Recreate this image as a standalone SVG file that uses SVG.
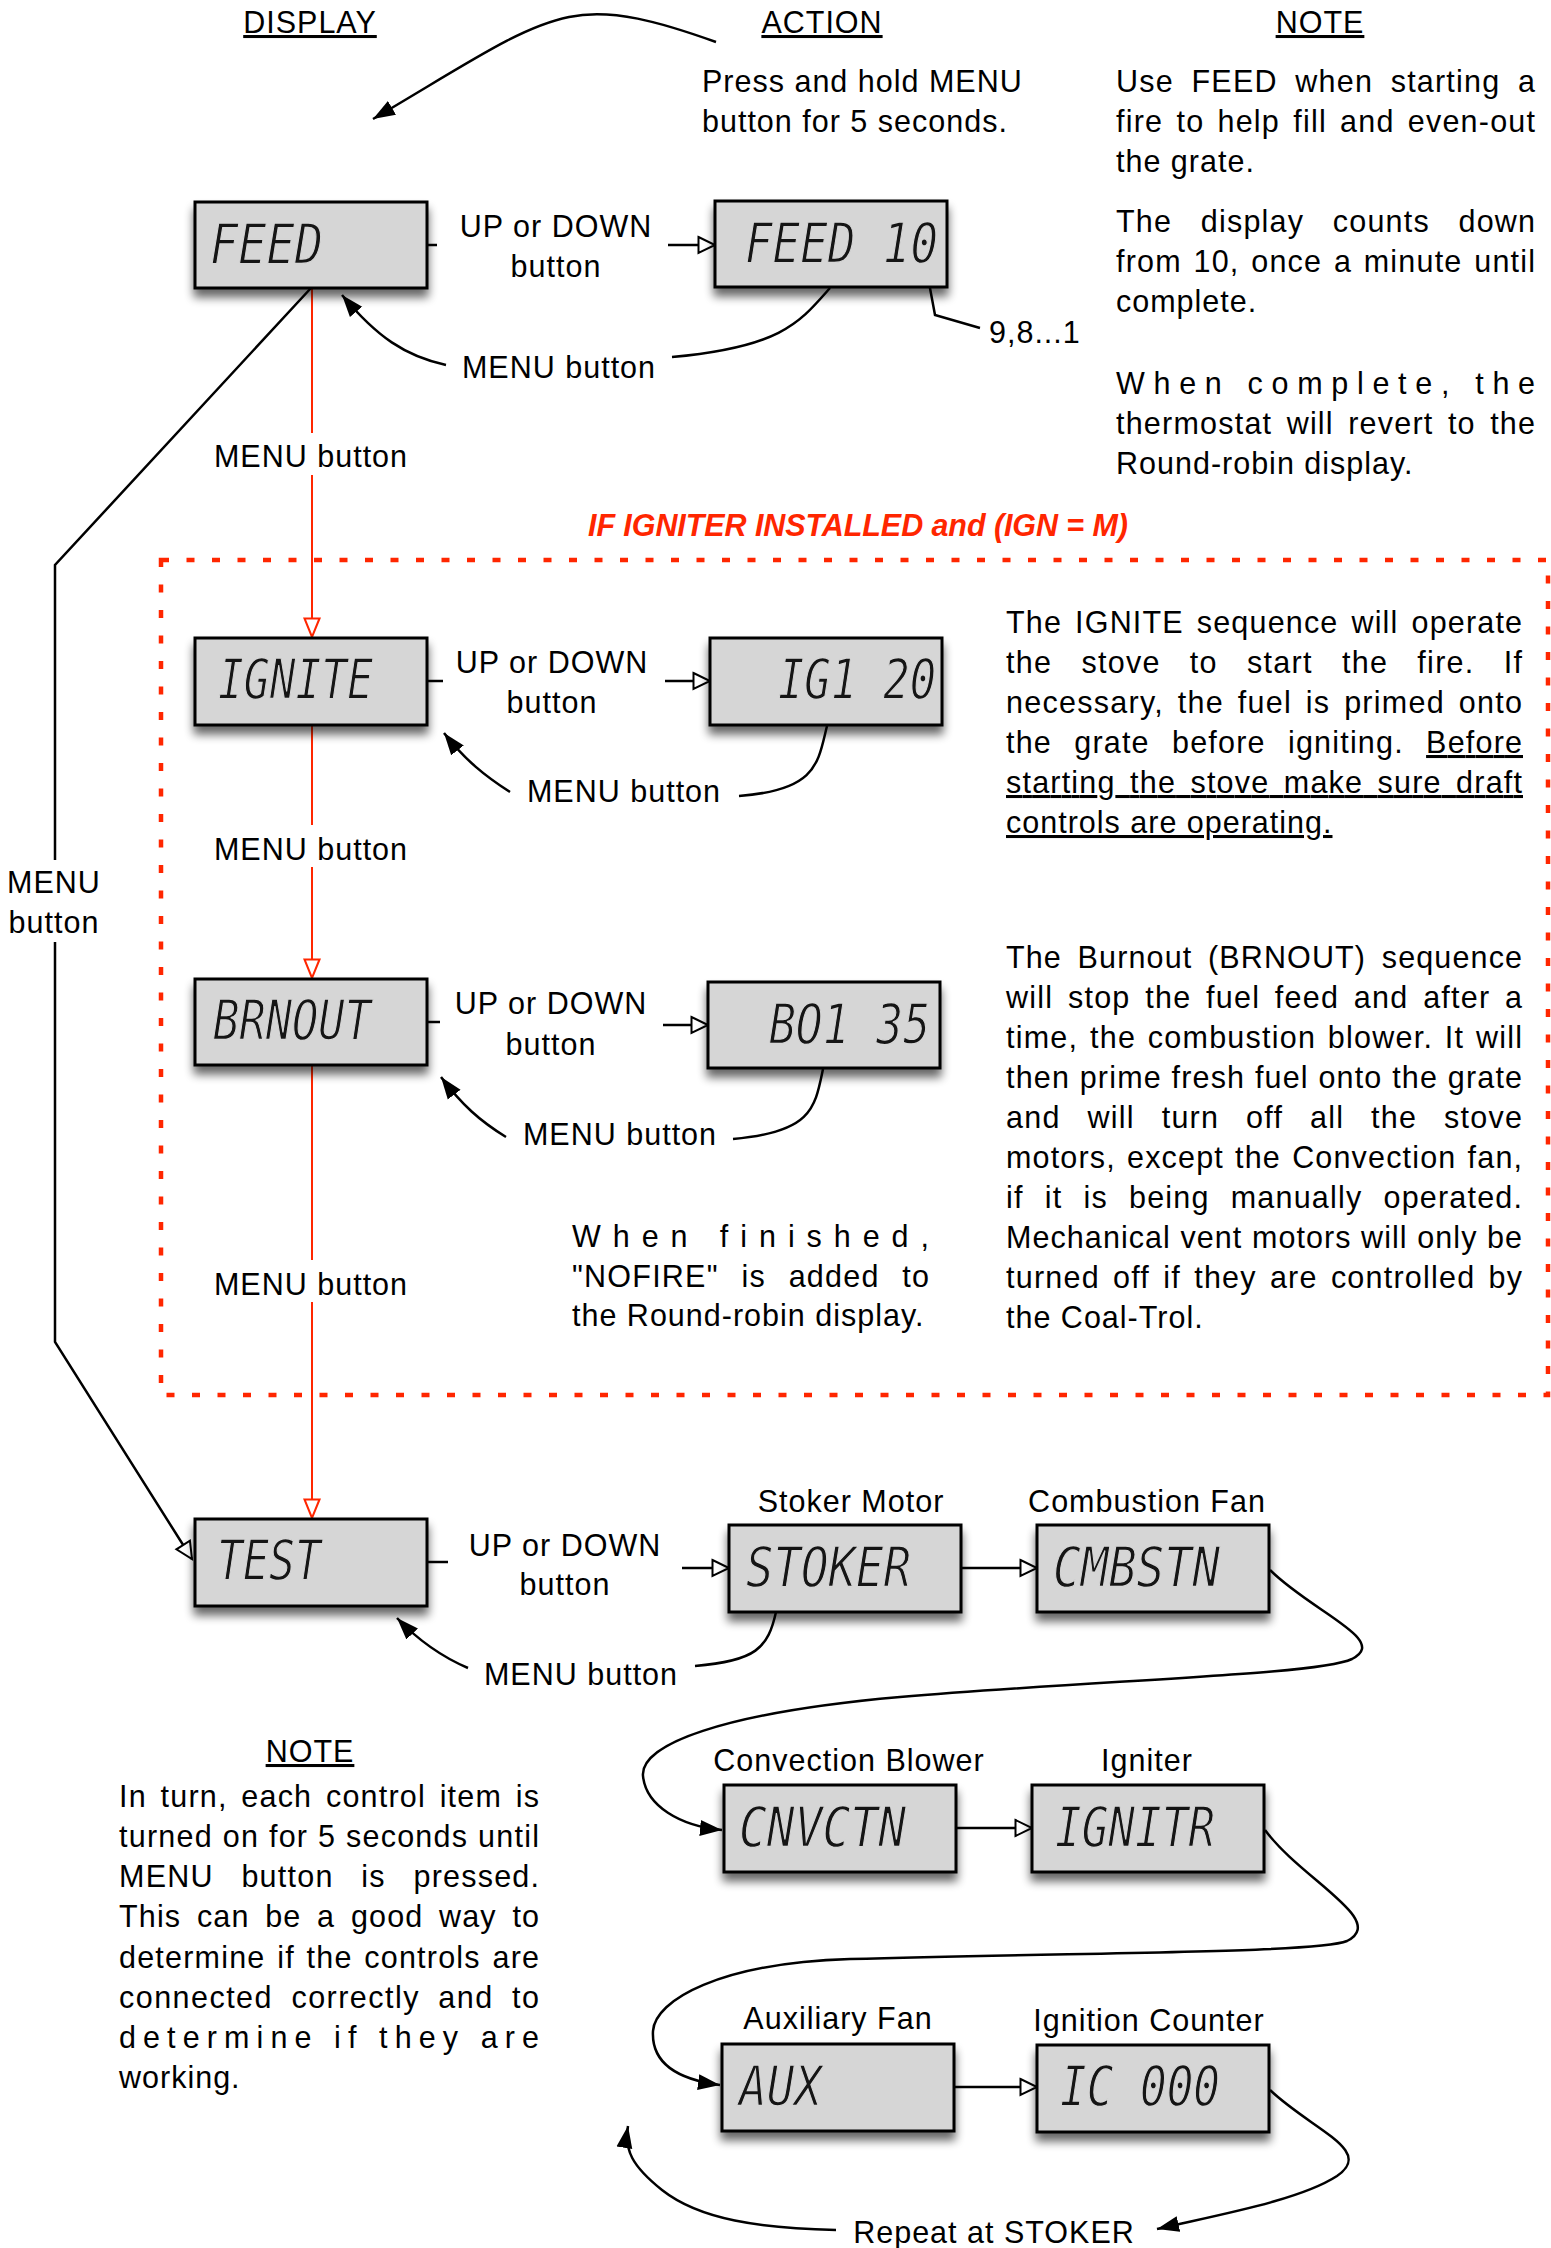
<svg xmlns="http://www.w3.org/2000/svg" width="1551" height="2248" viewBox="0 0 1551 2248">
<defs>
<style>
.t{font-family:"Liberation Sans",Arial,Helvetica,sans-serif;font-size:30.5px;letter-spacing:1px;fill:#000}
.c{text-anchor:middle}
.red{fill:#ff2600;font-weight:bold;font-style:italic;letter-spacing:0}
.u{text-decoration:underline}
.box{fill:#d6d6d6;stroke:#000;stroke-width:3;filter:url(#sh)}
.lcd{font-family:"DejaVu Sans Mono",monospace;font-style:oblique;font-size:56px;fill:#151515;stroke:#d6d6d6;stroke-width:1.3}
.ln{fill:none;stroke:#000;stroke-width:2.5}
.fa{marker-end:url(#fa)}
.oa{marker-end:url(#oa)}
.rl{fill:none;stroke:#ff2600;stroke-width:2}
</style>
<filter id="sh" x="-10%" y="-15%" width="125%" height="150%">
<feGaussianBlur in="SourceAlpha" stdDeviation="5"/>
<feOffset dy="8"/>
<feComponentTransfer><feFuncA type="linear" slope="0.6"/></feComponentTransfer>
<feMerge><feMergeNode/><feMergeNode in="SourceGraphic"/></feMerge>
</filter>
<marker id="fa" markerWidth="26" markerHeight="18" refX="22" refY="9" orient="auto" markerUnits="userSpaceOnUse">
<path d="M0,1 L22,9 L0,17 z" fill="#000"/>
</marker>
<marker id="oa" markerWidth="22" markerHeight="20" refX="18" refY="10" orient="auto" markerUnits="userSpaceOnUse">
<path d="M1.5,2 L18,10 L1.5,18 z" fill="#fff" stroke="#000" stroke-width="2"/>
</marker>
<marker id="ra" markerWidth="22" markerHeight="20" refX="20" refY="10" orient="auto" markerUnits="userSpaceOnUse">
<path d="M1.5,2.5 L20,10 L1.5,17.5 z" fill="#fff" stroke="#ff2600" stroke-width="2"/>
</marker>
</defs>
<rect width="1551" height="2248" fill="#fff"/>

<!-- headers -->
<g id="headers">
<text class="t c u" x="310" y="33">DISPLAY</text>
<text class="t c u" x="822" y="33">ACTION</text>
<text class="t c u" x="1320" y="33">NOTE</text>
</g>

<!-- dotted region -->
<g id="igniter-region">
<rect x="161" y="560" width="1387" height="835" fill="none" stroke="#ff2600" stroke-width="4.5" stroke-dasharray="8 17.5"/>
<text class="t red c" x="858" y="536" textLength="540">IF IGNITER INSTALLED and (IGN = M)</text>
</g>

<!-- connectors -->
<g id="connectors">
<path class="ln fa" d="M716 42 C660 22 612 8 569 17 C520 27 470 62 373 119"/>
<path class="ln" d="M427 245 H437"/>
<path class="ln oa" d="M668 245 H715"/>
<path class="ln" d="M830 288 C800 322 782 347 672 357"/>
<path class="ln fa" d="M446 365 C405 356 377 337 342 295"/>
<path class="ln" d="M927 272 L935 315 L980 328"/>
<path class="rl" d="M312 288 V433"/>
<path class="rl" d="M312 475 V637" marker-end="url(#ra)"/>
<path class="rl" d="M312 725 V825"/>
<path class="rl" d="M312 867 V978" marker-end="url(#ra)"/>
<path class="rl" d="M312 1065 V1260"/>
<path class="rl" d="M312 1302 V1518" marker-end="url(#ra)"/>
<path class="ln" d="M311 288 L55 565 V860"/>
<path class="ln oa" d="M55 942 V1342 L192 1559"/>
<path class="ln" d="M427 681 H443"/>
<path class="ln oa" d="M665 681 H710"/>
<path class="ln" d="M827 726 C818 762 818 790 739 796"/>
<path class="ln fa" d="M510 792 C485 776 465 760 444 733"/>
<path class="ln" d="M427 1022 H440"/>
<path class="ln oa" d="M663 1025 H708"/>
<path class="ln" d="M823 1069 C815 1108 812 1132 733 1139"/>
<path class="ln fa" d="M506 1137 C480 1121 462 1105 441 1077"/>
<path class="ln" d="M427 1562 H448"/>
<path class="ln oa" d="M682 1568 H729"/>
<path class="ln" d="M776 1612 C768 1648 756 1661 695 1666"/>
<path class="ln fa" d="M468 1668 C440 1656 418 1640 397 1618"/>
<path class="ln oa" d="M961 1568 H1037"/>
<path class="ln fa" d="M1270 1570 C1312 1612 1390 1640 1352 1659 C1318 1675 1100 1680 900 1697 C720 1713 640 1745 643 1776 C646 1806 680 1826 722 1830"/>
<path class="ln oa" d="M956 1828 H1032"/>
<path class="ln fa" d="M1265 1830 C1302 1880 1388 1920 1347 1941 C1318 1953 1100 1952 850 1959 C720 1963 655 2000 653 2031 C651 2066 682 2080 720 2085"/>
<path class="ln oa" d="M954 2087 H1037"/>
<path class="ln fa" d="M1270 2090 C1312 2130 1375 2150 1337 2176 C1300 2200 1222 2214 1157 2229"/>
<path class="ln fa" d="M836 2230 C760 2228 700 2220 662 2190 C632 2166 624 2150 628 2126"/>
</g>

<!-- connector labels -->
<g id="labels">
<text class="t c" x="556" y="237">UP or DOWN</text>
<text class="t c" x="556" y="277">button</text>
<text class="t c" x="559" y="378">MENU button</text>
<text class="t" x="989" y="343">9,8...1</text>
<text class="t c" x="311" y="467">MENU button</text>
<text class="t c" x="54" y="893">MENU</text>
<text class="t c" x="54" y="933">button</text>
<text class="t c" x="552" y="673">UP or DOWN</text>
<text class="t c" x="552" y="713">button</text>
<text class="t c" x="624" y="802">MENU button</text>
<text class="t c" x="311" y="860">MENU button</text>
<text class="t c" x="551" y="1014">UP or DOWN</text>
<text class="t c" x="551" y="1055">button</text>
<text class="t c" x="620" y="1145">MENU button</text>
<text class="t c" x="311" y="1295">MENU button</text>
<text class="t c" x="565" y="1556">UP or DOWN</text>
<text class="t c" x="565" y="1595">button</text>
<text class="t c" x="581" y="1685">MENU button</text>
<text class="t c" x="851" y="1512">Stoker Motor</text>
<text class="t c" x="1147" y="1512">Combustion Fan</text>
<text class="t c" x="849" y="1771">Convection Blower</text>
<text class="t c" x="1147" y="1771">Igniter</text>
<text class="t c" x="838" y="2029">Auxiliary Fan</text>
<text class="t c" x="1149" y="2031">Ignition Counter</text>
<text class="t c" x="994" y="2243">Repeat at STOKER</text>
</g>

<!-- nodes -->
<g id="n-feed"><rect class="box" x="195" y="202" width="232" height="86"/><text class="lcd" x="210" y="263" textLength="113" lengthAdjust="spacingAndGlyphs">FEED</text></g>
<g id="n-feed10"><rect class="box" x="715" y="201" width="232" height="86"/><text class="lcd" x="745" y="262" textLength="193" lengthAdjust="spacingAndGlyphs">FEED 10</text></g>
<g id="n-ignite"><rect class="box" x="195" y="638" width="232" height="87"/><text class="lcd" x="218" y="698" textLength="155" lengthAdjust="spacingAndGlyphs">IGNITE</text></g>
<g id="n-ig120"><rect class="box" x="710" y="638" width="232" height="87"/><text class="lcd" x="778" y="698" textLength="158" lengthAdjust="spacingAndGlyphs">IG1 20</text></g>
<g id="n-brnout"><rect class="box" x="195" y="979" width="232" height="86"/><text class="lcd" x="213" y="1039" textLength="158" lengthAdjust="spacingAndGlyphs">BRNOUT</text></g>
<g id="n-bo135"><rect class="box" x="708" y="982" width="232" height="86"/><text class="lcd" x="769" y="1043" textLength="161" lengthAdjust="spacingAndGlyphs">BO1 35</text></g>
<g id="n-test"><rect class="box" x="195" y="1519" width="232" height="87"/><text class="lcd" x="217" y="1579" textLength="104" lengthAdjust="spacingAndGlyphs">TEST</text></g>
<g id="n-stoker"><rect class="box" x="729" y="1525" width="232" height="87"/><text class="lcd" x="746" y="1586" textLength="165" lengthAdjust="spacingAndGlyphs">STOKER</text></g>
<g id="n-cmbstn"><rect class="box" x="1037" y="1525" width="232" height="87"/><text class="lcd" x="1053" y="1586" textLength="167" lengthAdjust="spacingAndGlyphs">CMBSTN</text></g>
<g id="n-cnvctn"><rect class="box" x="724" y="1785" width="232" height="87"/><text class="lcd" x="739" y="1846" textLength="167" lengthAdjust="spacingAndGlyphs">CNVCTN</text></g>
<g id="n-ignitr"><rect class="box" x="1032" y="1785" width="232" height="87"/><text class="lcd" x="1055" y="1846" textLength="160" lengthAdjust="spacingAndGlyphs">IGNITR</text></g>
<g id="n-aux"><rect class="box" x="722" y="2044" width="232" height="87"/><text class="lcd" x="739" y="2105" textLength="83" lengthAdjust="spacingAndGlyphs">AUX</text></g>
<g id="n-ic000"><rect class="box" x="1037" y="2045" width="232" height="87"/><text class="lcd" x="1060" y="2105" textLength="160" lengthAdjust="spacingAndGlyphs">IC 000</text></g>

<!-- notes -->
<g id="action-text">
<text class="t" x="702" y="92">Press and hold MENU</text>
<text class="t" x="702" y="132">button for 5 seconds.</text>
</g>
<g id="note-top">
<text class="t" x="1116" y="92" textLength="420" lengthAdjust="spacing" style="word-spacing:8px">Use FEED when starting a</text>
<text class="t" x="1116" y="132" textLength="420" lengthAdjust="spacing" style="word-spacing:3.5px">fire to help fill and even-out</text>
<text class="t" x="1116" y="172">the grate.</text>
<text class="t" x="1116" y="232" textLength="420" lengthAdjust="spacing" style="word-spacing:19px">The display counts down</text>
<text class="t" x="1116" y="272" textLength="420" lengthAdjust="spacing" style="word-spacing:2px">from 10, once a minute until</text>
<text class="t" x="1116" y="312">complete.</text>
<text class="t" x="1116" y="394" textLength="420" lengthAdjust="spacing">When complete, the</text>
<text class="t" x="1116" y="434" textLength="420" lengthAdjust="spacing" style="word-spacing:4.7px">thermostat will revert to the</text>
<text class="t" x="1116" y="474">Round-robin display.</text>
</g>
<g id="note-ignite">
<text class="t" x="1006" y="633" textLength="517" lengthAdjust="spacing" style="word-spacing:3.4px">The IGNITE sequence will operate</text>
<text class="t" x="1006" y="673" textLength="517" lengthAdjust="spacing" style="word-spacing:19.5px">the stove to start the fire. If</text>
<text class="t" x="1006" y="713" textLength="517" lengthAdjust="spacing" style="word-spacing:4px">necessary, the fuel is primed onto</text>
<text class="t" x="1006" y="753" textLength="517" lengthAdjust="spacing" style="word-spacing:12.5px">the grate before igniting. <tspan class="u">Before</tspan></text>
<text class="t u" x="1006" y="793" textLength="517" lengthAdjust="spacing" style="word-spacing:4.7px">starting the stove make sure draft</text>
<text class="t u" x="1006" y="833">controls are operating.</text>
</g>
<g id="note-brnout">
<text class="t" x="1006" y="968" textLength="517" lengthAdjust="spacing" style="word-spacing:6px">The Burnout (BRNOUT) sequence</text>
<text class="t" x="1006" y="1008" textLength="517" lengthAdjust="spacing" style="word-spacing:5px">will stop the fuel feed and after a</text>
<text class="t" x="1006" y="1048" textLength="517" lengthAdjust="spacing" style="word-spacing:2px">time, the combustion blower. It will</text>
<text class="t" x="1006" y="1088" textLength="517" lengthAdjust="spacing">then prime fresh fuel onto the grate</text>
<text class="t" x="1006" y="1128" textLength="517" lengthAdjust="spacing" style="word-spacing:17px">and will turn off all the stove</text>
<text class="t" x="1006" y="1168" textLength="517" lengthAdjust="spacing" style="word-spacing:1.5px">motors, except the Convection fan,</text>
<text class="t" x="1006" y="1208" textLength="517" lengthAdjust="spacing" style="word-spacing:11.4px">if it is being manually operated.</text>
<text class="t" x="1006" y="1248" textLength="517" lengthAdjust="spacing">Mechanical vent motors will only be</text>
<text class="t" x="1006" y="1288" textLength="517" lengthAdjust="spacing" style="word-spacing:3.5px">turned off if they are controlled by</text>
<text class="t" x="1006" y="1328">the Coal-Trol.</text>
</g>
<g id="note-finished">
<text class="t" x="572" y="1247" textLength="358" lengthAdjust="spacing">When finished,</text>
<text class="t" x="572" y="1287" textLength="358" lengthAdjust="spacing" style="word-spacing:13px">"NOFIRE" is added to</text>
<text class="t" x="572" y="1326">the Round-robin display.</text>
</g>
<g id="note-bottom">
<text class="t c u" x="310" y="1762">NOTE</text>
<text class="t" x="119" y="1807" textLength="421" lengthAdjust="spacing" style="word-spacing:4px">In turn, each control item is</text>
<text class="t" x="119" y="1847" textLength="421" lengthAdjust="spacing">turned on for 5 seconds until</text>
<text class="t" x="119" y="1887" textLength="421" lengthAdjust="spacing" style="word-spacing:18px">MENU button is pressed.</text>
<text class="t" x="119" y="1927" textLength="421" lengthAdjust="spacing" style="word-spacing:6px">This can be a good way to</text>
<text class="t" x="119" y="1968" textLength="421" lengthAdjust="spacing" style="word-spacing:2px">determine if the controls are</text>
<text class="t" x="119" y="2008" textLength="421" lengthAdjust="spacing" style="word-spacing:8.5px">connected correctly and to</text>
<text class="t" x="119" y="2048" textLength="421" lengthAdjust="spacing">determine if they are</text>
<text class="t" x="119" y="2088">working.</text>
</g>
</svg>
